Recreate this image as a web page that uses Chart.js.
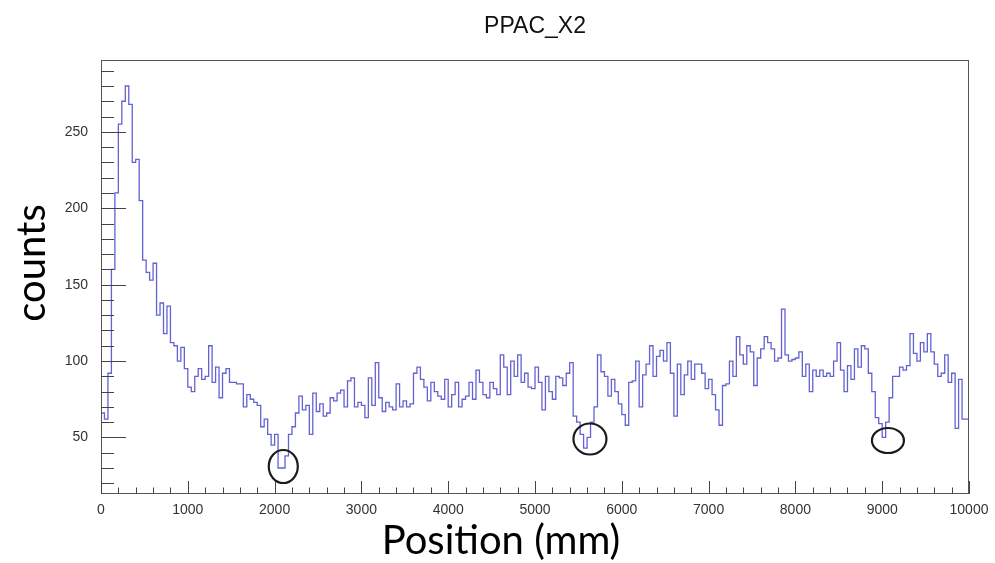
<!DOCTYPE html>
<html>
<head>
<meta charset="utf-8">
<script src="https://cdn.jsdelivr.net/npm/chart.js@4.4.1/dist/chart.umd.min.js"></script>
<style>
html, body { margin: 0; padding: 0; background: #fff; }
#wrap { width: 995px; height: 563px; }
</style>
</head>
<body>
<div id="wrap"><canvas id="ppacChart" width="995" height="563"></canvas></div>
<script>
// histogram: 250 bins of 40 mm, counts
var binWidth = 40;
var counts = [
    33, 66, 62, 92, 160, 210, 255, 270, 280, 268,
    230, 232, 205, 166, 158, 153, 164, 130, 138, 118,
    136, 112, 110, 100, 109, 95, 83, 80, 90, 95,
    88, 90, 110, 86, 96, 76, 92, 95, 86, 86,
    85, 85, 70, 78, 75, 73, 71, 57, 62, 52,
    45, 52, 30, 30, 38, 52, 57, 66, 77, 68,
    71, 52, 79, 67, 72, 64, 66, 76, 74, 79,
    81, 70, 87, 89, 70, 73, 71, 63, 89, 71,
    99, 76, 67, 73, 70, 68, 85, 70, 74, 70,
    72, 92, 96, 88, 83, 74, 86, 80, 77, 75,
    88, 70, 78, 86, 70, 75, 77, 86, 75, 94,
    86, 78, 76, 86, 82, 78, 104, 96, 78, 100,
    90, 104, 86, 92, 83, 82, 96, 86, 68, 90,
    80, 75, 90, 89, 84, 92, 99, 64, 60, 52,
    43, 50, 60, 70, 104, 93, 90, 77, 88, 80,
    72, 65, 58, 86, 87, 100, 70, 91, 98, 110,
    90, 103, 107, 100, 112, 92, 64, 98, 78, 91,
    100, 88, 98, 98, 92, 82, 88, 78, 68, 58,
    84, 85, 100, 90, 116, 104, 98, 110, 106, 84,
    102, 108, 116, 112, 108, 100, 102, 134, 104, 100,
    101, 102, 106, 90, 98, 80, 94, 90, 94, 90,
    92, 90, 100, 112, 94, 80, 97, 88, 108, 96,
    110, 108, 92, 80, 63, 59, 50, 60, 76, 90,
    90, 96, 94, 97, 118, 105, 100, 112, 106, 118,
    106, 98, 90, 92, 104, 86, 92, 56, 88, 62
];
var xTicks = [0, 1000, 2000, 3000, 4000, 5000, 6000, 7000, 8000, 9000, 10000];
var yTicks = [50, 100, 150, 200, 250];
// dips marked with circles
var markerX = [2100, 5633, 9066];
var markerY = [31, 49, 48];

var histPoints = counts.map((c, i) => ({ x: i * binWidth, y: c }));
histPoints.push({ x: counts.length * binWidth, y: counts[counts.length - 1] });

// ROOT style frame with inward major/minor ticks
const rootFrame = {
    id: 'rootFrame',
    afterDatasetsDraw(chart) {
        const { ctx, chartArea: a, scales: { x, y } } = chart;
        ctx.save();
        ctx.strokeStyle = '#555';
        ctx.lineWidth = 1;
        ctx.strokeRect(a.left + 0.5, a.top + 0.5, a.right - a.left - 1, a.bottom - a.top - 1);
        ctx.strokeStyle = '#444';
        ctx.beginPath();
        for (let v = 20; v <= 290; v += 10) {
            const py = Math.round(y.getPixelForValue(v)) + 0.5;
            const len = v % 50 === 0 ? 25 : 13;
            ctx.moveTo(a.left, py);
            ctx.lineTo(a.left + len, py);
        }
        for (let v = 0; v <= 10000; v += 200) {
            const px = Math.round(x.getPixelForValue(v)) + 0.5;
            const len = v % 1000 === 0 ? 13 : 6.5;
            ctx.moveTo(px, a.bottom);
            ctx.lineTo(px, a.bottom - len);
        }
        ctx.stroke();
        ctx.restore();
    }
};

const dipCircles = {
    id: 'dipCircles',
    afterDatasetsDraw(chart) {
        const { ctx, scales: { x, y } } = chart;
        const radii = [[14.5, 16.5], [16.5, 15.5], [16, 12.5]];
        ctx.save();
        ctx.strokeStyle = '#1b1b1b';
        ctx.lineWidth = 2.2;
        markerX.forEach((mx, i) => {
            ctx.beginPath();
            ctx.ellipse(x.getPixelForValue(mx), y.getPixelForValue(markerY[i]), radii[i][0], radii[i][1], 0, 0, Math.PI * 2);
            ctx.stroke();
        });
        ctx.restore();
    }
};

// title over the frame, axis titles as pasted in the slide
const textLayer = {
    id: 'textLayer',
    afterDraw(chart) {
        const { ctx, chartArea: a } = chart;
        ctx.save();
        ctx.fillStyle = '#111';
        ctx.font = '23px "Liberation Sans"';
        ctx.textAlign = 'center';
        ctx.textBaseline = 'alphabetic';
        ctx.fillText('PPAC_X2', (a.left + a.right) / 2, 33);
        ctx.fillStyle = '#000';
        ctx.font = '40px Lato';
        ctx.fillText('Position (mm)', 501, 554);
        ctx.translate(45, 263);
        ctx.rotate(-Math.PI / 2);
        ctx.fillText('counts', 0, 0);
        ctx.restore();
    }
};

var tickFont = { family: 'Liberation Sans', size: 14 };

var histChart = new Chart('ppacChart', {
    type: 'line',
    data: {
        datasets: [{
            label: 'PPAC_X2',
            data: histPoints,
            stepped: 'after',
            borderColor: 'rgb(98, 98, 210)',
            borderWidth: 1.3,
            pointRadius: 0,
            fill: false
        }]
    },
    options: {
        responsive: false,
        animation: false,
        devicePixelRatio: 1,
        layout: { padding: { left: 0, right: 26, top: 60, bottom: 0 } },
        scales: {
            x: {
                type: 'linear',
                min: 0,
                max: 10000,
                afterBuildTicks: s => { s.ticks = xTicks.map(v => ({ value: v })); },
                afterFit: s => { s.height = 69; },
                ticks: {
                    autoSkip: false,
                    maxRotation: 0,
                    padding: 0,
                    color: '#333',
                    font: tickFont,
                    callback: v => String(v)
                },
                grid: { display: false },
                border: { display: false }
            },
            y: {
                min: 13,
                max: 297,
                afterBuildTicks: s => { s.ticks = yTicks.map(v => ({ value: v })); },
                afterFit: s => { s.width = 101; },
                ticks: {
                    padding: 5,
                    color: '#333',
                    font: tickFont
                },
                grid: { display: false },
                border: { display: false }
            }
        },
        plugins: {
            legend: { display: false },
            tooltip: { enabled: false },
            title: { display: false }
        }
    },
    plugins: [rootFrame, dipCircles, textLayer]
});
</script>
</body>
</html>
